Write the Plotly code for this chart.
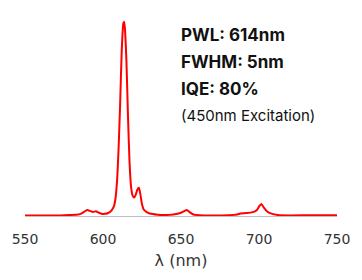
import plotly.graph_objects as go

wavelength = [550, 560, 570, 578, 583, 586, 588, 589.8, 592, 593.5, 595.5, 597, 599, 601, 603, 605,
              606, 607, 608, 609, 610, 611, 612, 613, 613.5, 614, 615, 616, 617, 618, 619, 620,
              621, 622, 623, 624, 625, 626, 628, 630, 635, 640, 645, 650, 652, 653.7, 655.5, 658,
              662, 670, 680, 686, 688, 692, 696, 698.5, 700, 701.5, 703, 705, 708, 712, 720, 735, 750]
intensity = [0.003, 0.003, 0.003, 0.005, 0.006, 0.012, 0.022, 0.031, 0.025, 0.021, 0.024, 0.018, 0.012,
             0.011, 0.014, 0.024, 0.035, 0.05, 0.09, 0.18, 0.35, 0.58, 0.85, 0.99, 1.0, 0.97, 0.8,
             0.52, 0.28, 0.15, 0.105, 0.095, 0.11, 0.135, 0.145, 0.11, 0.06, 0.035, 0.02, 0.013,
             0.007, 0.005, 0.008, 0.017, 0.025, 0.031, 0.02, 0.008, 0.004, 0.003, 0.004, 0.008, 0.013,
             0.015, 0.02, 0.03, 0.048, 0.062, 0.045, 0.025, 0.012, 0.005, 0.003, 0.004, 0.004]

tick_vals = [550, 600, 650, 700, 750]
notes = ["<b>PWL: 614nm</b>", "<b>FWHM: 5nm</b>", "<b>IQE: 80%</b>", "(450nm Excitation)"]
note_y = [0.933, 0.795, 0.653, 0.515]
note_size = [17, 17, 17, 15]

fig = go.Figure()
fig.add_trace(go.Scatter(x=wavelength, y=intensity, mode="lines",
                         line=dict(color="#ff0000", width=2, shape="spline", smoothing=0.6),
                         hoverinfo="skip"))
for t, y, s in zip(notes, note_y, note_size):
    fig.add_annotation(x=649, y=y, xref="x", yref="y", text=t, showarrow=False,
                       xanchor="left", yanchor="middle",
                       font=dict(family="Inter, sans-serif", size=s, color="#111"))

fig.update_layout(
    width=362, height=280,
    margin=dict(l=24, r=23, t=12, b=64),
    paper_bgcolor="white", plot_bgcolor="white",
    showlegend=False,
    xaxis=dict(range=[550, 750], tickvals=tick_vals, showgrid=False, zeroline=False,
               showline=True, linecolor="#c0c0c0", linewidth=1,
               ticks="outside", ticklen=10, tickcolor="rgba(0,0,0,0)",
               tickfont=dict(family="DejaVu Sans", size=14, color="#333"),
               title=dict(text="λ (nm)", font=dict(family="DejaVu Sans", size=16, color="#333"),
                          standoff=9)),
    yaxis=dict(range=[0, 1.05], visible=False, showgrid=False, zeroline=False),
)
fig.write_html("out.html")
